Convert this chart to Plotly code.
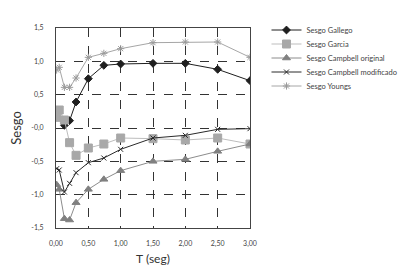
import plotly.graph_objects as go

T = [0.01, 0.05, 0.13, 0.21, 0.31, 0.5, 0.74, 1.0, 1.5, 2.0, 2.5, 3.0]

gallego = [None, None, 0.04, 0.11, 0.39, 0.74, 0.94, 0.96, 0.97, 0.97, 0.88, 0.71]
garcia = [0.16, 0.27, 0.12, -0.22, -0.41, -0.30, -0.24, -0.15, -0.16, -0.18, -0.15, -0.24]
campbell_orig = [-0.85, -0.92, -1.36, -1.38, -1.12, -0.92, -0.77, -0.64, -0.50, -0.47, -0.35, -0.24]
campbell_mod = [-0.61, -0.63, -0.96, -0.83, -0.67, -0.52, -0.45, -0.32, -0.15, -0.11, -0.02, -0.01]
youngs = [0.87, 0.91, 0.61, 0.61, 0.75, 1.06, 1.12, 1.19, 1.28, 1.29, 1.29, 1.06]

x_ticks = [0, 0.5, 1.0, 1.5, 2.0, 2.5, 3.0]
x_labels = ["0,00", "0,50", "1,00", "1,50", "2,00", "2,50", "3,00"]
y_ticks = [1.5, 1.0, 0.5, 0.0, -0.5, -1.0, -1.5]
y_labels = ["1,5", "1,0", "0,5", "-0,0", "-0,5", "-1,0", "-1,5"]

series = [
    ("Sesgo Gallego", gallego, "#1f1f1f", "#1f1f1f", "diamond", 6),
    ("Sesgo Garcia", garcia, "#bdbdbd", "#a8a8a8", "square", 8),
    ("Sesgo Campbell original", campbell_orig, "#8c8c8c", "#808080", "triangle-up", 7),
    ("Sesgo Campbell modificado", campbell_mod, "#2a2a2a", "#2a2a2a", "x-thin", 5),
    ("Sesgo Youngs", youngs, "#a6a6a6", "#9a9a9a", "asterisk", 6),
]
legend_ys = [0.99, 0.92, 0.85, 0.78, 0.71]

fig = go.Figure()
legend_layouts = {}
for i, (name, vals, lc, mc, sym, sz) in enumerate(series):
    lname = "legend" if i == 0 else f"legend{i + 1}"
    fig.add_trace(go.Scatter(
        x=T, y=vals, name=name, mode="lines+markers",
        line=dict(color=lc, width=1),
        marker=dict(symbol=sym, size=sz, color=mc,
                    line=dict(color=mc, width=1)),
        connectgaps=False, legend=lname,
    ))
    legend_layouts[lname] = dict(
        x=1.085, xanchor="left", y=legend_ys[i], yanchor="middle",
        font=dict(size=7.5, color="#444444"),
        bgcolor="rgba(0,0,0,0)", itemwidth=30,
    )

# page body has an 8px default margin, so the figure is 8px smaller
font_fam = "Lato, Open Sans, sans-serif"
fig.update_layout(
    width=402, height=258,
    margin=dict(l=48, r=160, t=20, b=38, autoexpand=False),
    paper_bgcolor="white", plot_bgcolor="white",
    font=dict(family=font_fam, color="#444444"),
    showlegend=True,
    **legend_layouts,
    xaxis=dict(range=[0, 3], tickvals=x_ticks, ticktext=x_labels,
               tickfont=dict(size=7, color="#444444"),
               showgrid=True, gridcolor="#333333", griddash="dash", gridwidth=1,
               showline=True, linecolor="#444444", linewidth=1, mirror=True,
               zeroline=False, ticks="", ticklabelstandoff=9, automargin=False,
               title=dict(text="T (seg)", font=dict(size=12, color="#333333"), standoff=10)),
    yaxis=dict(range=[-1.5, 1.5], tickvals=y_ticks, ticktext=y_labels,
               tickfont=dict(size=7, color="#444444"),
               showgrid=True, gridcolor="#333333", griddash="dash", gridwidth=1,
               showline=True, linecolor="#444444", linewidth=1, mirror=True,
               zeroline=False, ticks="", ticklabelstandoff=10, automargin=False,
               title=dict(text="Sesgo", font=dict(size=13, color="#333333"), standoff=14)),
)

fig.write_html("out.html")
